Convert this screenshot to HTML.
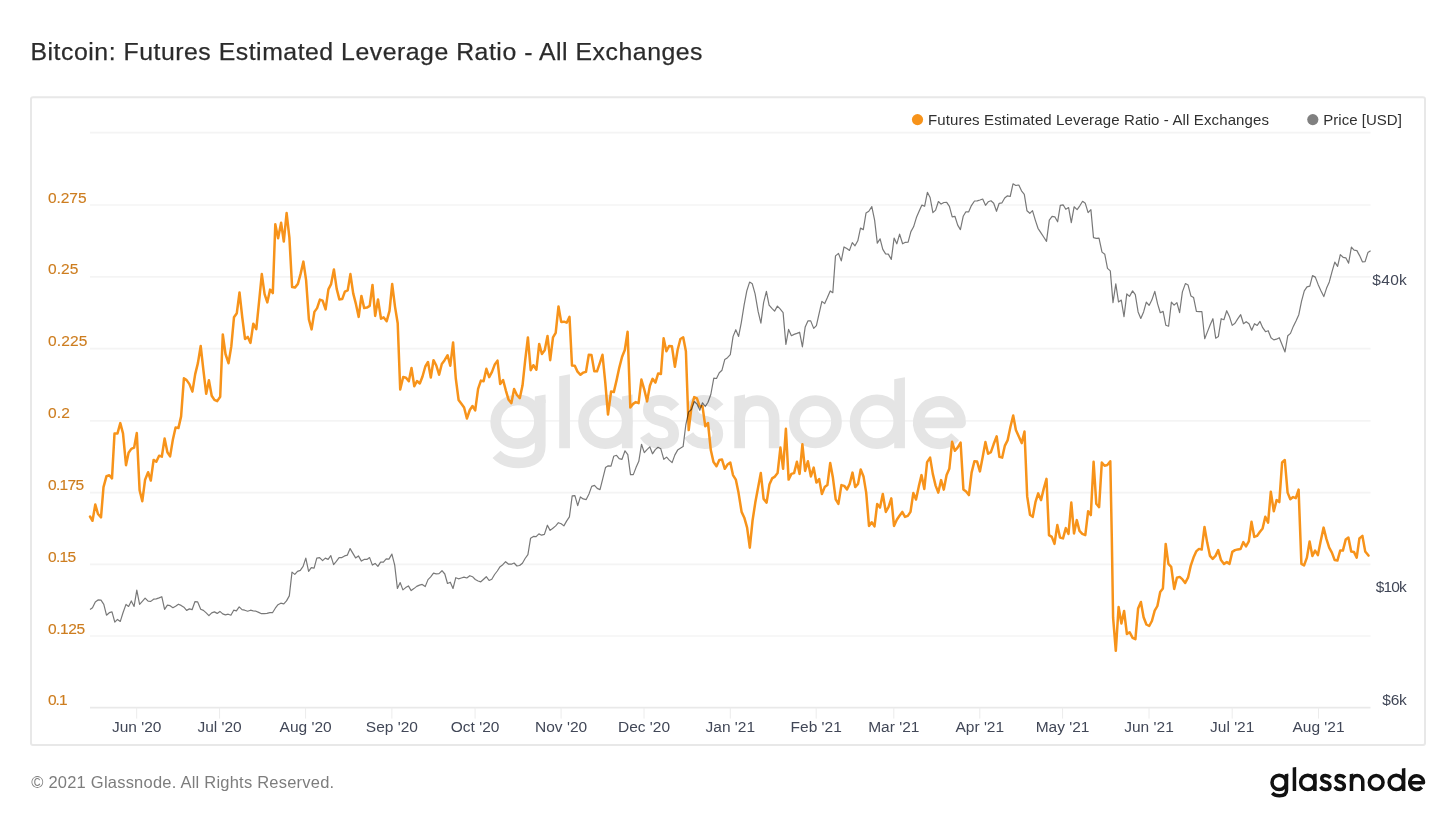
<!DOCTYPE html>
<html><head><meta charset="utf-8"><title>Bitcoin: Futures Estimated Leverage Ratio - All Exchanges</title>
<style>
html,body{margin:0;padding:0;background:#fff;}
body{width:1456px;height:819px;overflow:hidden;font-family:"Liberation Sans",sans-serif;}
svg{display:block;mix-blend-mode:multiply;will-change:transform;}
svg text{font-family:"Liberation Sans",sans-serif;}
</style></head><body>
<svg width="1456" height="819" viewBox="0 0 1456 819">
<rect width="1456" height="819" fill="#ffffff"/>
<text x="30.500" y="60.200" font-size="24.800" fill="#2b2b2b" stroke="#2b2b2b" stroke-width="0.250" textLength="672" lengthAdjust="spacing">Bitcoin: Futures Estimated Leverage Ratio - All Exchanges</text>
<rect x="31" y="97.300" width="1394" height="647.800" rx="2" ry="2" fill="#ffffff" stroke="#e8e8e8" stroke-width="2"/>

<g stroke="#f4f4f4" stroke-width="1.700">
<line x1="90" y1="132.7" x2="1370.5" y2="132.7"/>
<line x1="90" y1="205" x2="1370.5" y2="205"/>
<line x1="90" y1="276.8" x2="1370.5" y2="276.8"/>
<line x1="90" y1="348.6" x2="1370.5" y2="348.6"/>
<line x1="90" y1="420.8" x2="1370.5" y2="420.8"/>
<line x1="90" y1="492.6" x2="1370.5" y2="492.6"/>
<line x1="90" y1="564.3" x2="1370.5" y2="564.3"/>
<line x1="90" y1="636" x2="1370.5" y2="636"/>
</g>
<g transform="translate(446.650,337.800) scale(0.3835)" stroke="#e5e5e5" fill="#e5e5e5">
<g fill="none" stroke-width="28" stroke-linecap="butt" stroke-linejoin="round">
<circle cx="185" cy="219" r="57"/>
<path d="M244,160 V282 Q244,326 188,326 Q150,326 130,304"/>
<circle cx="414" cy="219" r="57"/>
<path d="M596,182 Q580,163 556,163 Q526,163 526,188 Q526,208 556,216 Q592,224 592,250 Q592,276 558,276 Q530,276 516,254"/>
<path d="M711,182 Q695,163 671,163 Q641,163 641,188 Q641,208 671,216 Q707,224 707,250 Q707,276 673,276 Q645,276 631,254"/>
<path d="M764,214 C764,182 784,164 809,164 C834,164 854,182 854,214 V288"/>
<circle cx="961.500" cy="219" r="55"/>
<circle cx="1122" cy="219" r="57"/>
<path d="M1232,222 H1340 A55,55 0 1 0 1326,258"/>
</g>
<g stroke="none" class="wmf">
<polygon points="230,153 258,148 258,170 230,170"/>
<polygon points="293.500,100 321.500,95 321.500,288 293.500,288"/>
<polygon points="457,153 485,148 485,288 457,288"/>
<polygon points="750,153 778,148 778,288 750,288"/>
<polygon points="1167,108 1195,103 1195,288 1167,288"/>
</g>
</g>
<g stroke="#e9e9e9" stroke-width="1.600"><line x1="90" y1="707.6" x2="1370.5" y2="707.6"/>
<line x1="136.7" y1="707.6" x2="136.7" y2="718.6" stroke="#ececec" stroke-width="1"/>
<line x1="219.6" y1="707.6" x2="219.6" y2="718.6" stroke="#ececec" stroke-width="1"/>
<line x1="305.6" y1="707.6" x2="305.6" y2="718.6" stroke="#ececec" stroke-width="1"/>
<line x1="391.9" y1="707.6" x2="391.9" y2="718.6" stroke="#ececec" stroke-width="1"/>
<line x1="475.1" y1="707.6" x2="475.1" y2="718.6" stroke="#ececec" stroke-width="1"/>
<line x1="561.1" y1="707.6" x2="561.1" y2="718.6" stroke="#ececec" stroke-width="1"/>
<line x1="644" y1="707.6" x2="644" y2="718.6" stroke="#ececec" stroke-width="1"/>
<line x1="730.3" y1="707.6" x2="730.3" y2="718.6" stroke="#ececec" stroke-width="1"/>
<line x1="816.2" y1="707.6" x2="816.2" y2="718.6" stroke="#ececec" stroke-width="1"/>
<line x1="893.8" y1="707.6" x2="893.8" y2="718.6" stroke="#ececec" stroke-width="1"/>
<line x1="979.8" y1="707.6" x2="979.8" y2="718.6" stroke="#ececec" stroke-width="1"/>
<line x1="1062.6" y1="707.6" x2="1062.6" y2="718.6" stroke="#ececec" stroke-width="1"/>
<line x1="1149" y1="707.6" x2="1149" y2="718.6" stroke="#ececec" stroke-width="1"/>
<line x1="1232.2" y1="707.6" x2="1232.2" y2="718.6" stroke="#ececec" stroke-width="1"/>
<line x1="1318.5" y1="707.6" x2="1318.5" y2="718.6" stroke="#ececec" stroke-width="1"/>
</g>
<polyline fill="none" stroke="#f7931a" stroke-width="2.500" stroke-linejoin="round" stroke-linecap="round" points="90.0,516.5 92.5,520.8 95.3,504.5 98.0,514.0 101.0,517.3 103.5,487.2 106.5,476.2 109.3,475.2 112.0,478.4 114.5,433.6 117.5,433.4 120.3,423.1 123.0,433.4 126.0,465.2 128.6,452.7 131.3,448.9 134.1,447.7 136.8,433.1 139.6,490.2 142.3,501.2 145.1,479.7 148.1,472.2 150.8,480.5 153.6,459.9 156.3,461.7 159.1,455.7 161.8,456.7 164.6,438.6 167.4,452.2 170.1,456.4 172.9,439.4 175.6,427.4 178.4,428.1 181.1,416.4 183.9,378.3 186.6,380.1 189.4,384.1 192.4,391.6 195.2,374.1 197.9,363.1 200.7,346.0 203.4,370.1 206.2,393.8 208.9,380.3 211.7,395.8 214.4,399.9 217.2,401.1 220.2,396.8 222.8,334.4 225.5,354.0 228.5,363.2 231.3,346.4 234.0,317.2 236.8,313.2 239.5,292.4 242.3,317.7 245.0,338.9 247.8,336.9 250.5,342.9 253.3,323.7 256.3,329.2 259.1,301.4 261.8,274.1 264.6,294.1 267.3,302.4 270.1,289.6 272.8,293.1 275.3,224.3 278.1,238.3 281.1,222.8 283.8,241.6 286.6,213.0 289.4,237.6 292.1,287.1 294.9,287.6 297.9,283.9 300.6,273.9 303.4,261.6 306.1,280.1 308.9,319.4 311.6,329.4 314.4,311.9 317.1,308.1 319.9,299.6 322.6,300.6 325.6,309.4 328.4,289.4 331.1,284.1 333.9,269.4 336.7,288.9 339.4,299.4 342.2,299.1 344.9,291.6 347.7,290.4 350.4,274.1 353.2,293.4 355.9,303.9 358.7,316.9 361.4,295.9 364.2,308.1 366.9,307.6 369.7,305.9 372.5,284.9 375.2,315.9 378.0,299.4 381.0,318.7 383.7,317.4 386.7,321.2 389.5,310.9 392.2,284.1 395.0,306.6 397.7,323.2 400.2,389.5 403.2,377.0 406.0,377.7 408.8,381.2 411.5,368.0 414.3,386.3 417.0,381.0 419.8,383.5 422.5,376.5 425.3,366.5 428.0,362.0 430.8,377.5 433.5,360.2 436.3,365.5 439.1,374.7 441.8,364.0 444.6,360.2 447.6,355.2 450.3,365.7 453.1,342.4 455.8,378.5 458.6,400.0 461.4,403.8 464.1,407.5 466.9,418.5 469.8,410.0 472.5,406.0 475.2,410.4 478.1,388.8 480.9,380.6 483.6,381.2 486.4,368.8 489.2,377.1 492.0,371.9 494.8,364.4 497.5,360.6 500.2,384.1 503.1,380.0 505.9,390.6 508.6,399.8 511.4,403.1 514.1,389.1 516.9,395.0 519.8,398.1 522.5,385.6 525.2,360.2 527.9,337.4 530.7,370.2 533.4,365.2 536.4,369.7 539.2,343.9 541.9,354.0 544.7,350.2 547.5,335.9 550.2,360.2 553.0,337.4 555.7,332.9 558.5,306.4 561.2,321.9 564.0,321.7 566.7,322.7 569.5,316.9 572.0,365.6 574.8,365.8 577.5,371.6 580.5,374.8 583.3,372.6 586.0,371.8 588.8,354.8 591.5,355.1 594.3,371.3 597.0,371.3 599.8,363.1 602.5,354.8 605.3,382.6 608.0,414.6 611.1,391.4 613.8,392.1 616.6,380.1 619.3,367.6 622.1,356.8 624.8,350.0 627.6,331.8 630.3,407.4 633.1,403.9 635.8,402.1 638.6,403.1 641.4,379.6 644.1,388.8 647.1,401.4 649.9,385.8 652.6,378.8 655.4,382.6 658.1,373.6 660.9,374.1 663.6,338.3 666.4,351.3 669.1,346.0 671.9,346.3 674.9,366.8 677.6,350.0 680.4,339.0 683.2,337.3 685.9,351.3 688.7,430.1 691.4,407.6 694.2,397.1 696.9,398.4 699.7,406.4 702.5,406.3 705.3,426.3 708.0,423.0 710.8,450.1 713.5,462.1 716.5,466.3 719.3,460.1 722.0,459.6 724.8,468.8 727.5,464.6 730.3,462.6 733.0,475.1 735.8,479.6 738.5,492.6 741.6,511.9 744.3,517.7 747.1,527.7 749.8,547.7 752.6,520.2 755.3,502.6 758.1,487.6 760.8,473.1 763.6,498.9 766.6,502.6 769.4,484.6 772.1,478.4 774.9,476.6 777.6,473.1 780.4,447.6 783.1,468.8 785.9,428.8 788.6,479.6 791.4,473.9 794.1,473.1 796.9,461.8 799.6,473.9 802.4,444.3 805.1,470.9 807.9,461.3 810.9,476.4 813.7,467.6 816.4,482.6 819.2,479.1 821.9,494.1 824.7,487.1 827.4,485.1 830.2,463.1 832.9,477.6 835.7,499.4 838.4,503.9 841.4,485.1 844.2,485.9 847.0,489.4 849.7,483.9 852.5,472.6 855.2,487.1 858.0,483.9 860.7,469.6 863.5,476.4 866.2,492.6 869.0,525.9 871.7,522.2 874.5,526.4 877.2,503.9 880.0,507.6 882.8,493.9 885.8,511.9 888.5,507.1 891.3,498.4 894.0,525.9 896.8,519.7 899.5,515.7 902.3,511.9 905.0,516.9 907.8,515.9 910.5,511.9 913.3,493.1 916.0,499.6 918.8,486.4 921.5,475.1 924.3,488.9 927.1,462.1 930.1,457.6 932.8,473.9 935.6,485.6 938.3,492.6 941.1,480.1 943.8,489.6 946.6,475.1 949.3,468.8 952.1,441.8 954.9,450.8 957.6,447.6 960.6,442.6 963.4,489.4 966.1,491.4 968.9,495.1 971.6,472.6 974.4,461.3 977.1,461.6 979.9,471.4 982.6,457.6 985.4,442.1 988.1,453.8 990.9,452.1 993.6,444.3 996.7,436.3 999.4,456.8 1002.2,457.6 1004.9,445.6 1007.7,440.1 1010.4,427.0 1013.2,415.5 1015.9,430.0 1018.7,436.3 1021.7,443.1 1024.5,431.5 1027.2,496.4 1030.0,514.7 1032.7,516.9 1035.5,501.9 1038.2,493.4 1041.0,500.1 1043.7,488.9 1046.5,478.9 1049.0,535.1 1051.8,536.9 1054.5,543.9 1057.3,525.1 1060.0,537.6 1063.0,538.4 1065.8,528.1 1068.5,533.9 1071.3,502.6 1074.0,533.4 1076.8,520.1 1079.5,530.9 1082.3,533.9 1085.3,535.1 1088.1,511.3 1090.8,515.1 1093.6,461.8 1096.3,503.8 1099.1,507.1 1101.8,462.5 1104.6,465.8 1107.3,465.0 1110.3,461.3 1111.8,537.6 1113.1,617.7 1115.8,650.8 1118.6,607.0 1121.4,623.5 1124.1,611.0 1126.9,634.0 1129.6,632.2 1132.6,637.8 1135.4,639.2 1138.1,608.5 1140.9,602.0 1143.6,617.2 1146.4,624.5 1149.2,626.0 1151.9,621.0 1154.7,610.7 1157.4,606.0 1160.2,591.9 1162.9,588.4 1165.7,543.9 1168.4,563.9 1171.2,566.9 1174.2,588.9 1176.9,577.7 1179.7,576.9 1182.5,579.4 1185.2,582.9 1188.0,577.7 1190.7,565.9 1193.5,557.6 1196.2,551.4 1199.0,548.9 1201.7,549.6 1204.5,526.9 1207.2,542.6 1210.0,555.9 1212.7,558.9 1215.5,555.9 1218.2,550.1 1221.0,560.1 1224.0,563.9 1226.8,562.1 1229.5,563.9 1232.3,551.9 1235.0,550.1 1237.8,549.4 1240.5,549.1 1243.3,542.1 1246.0,546.4 1248.8,541.4 1251.5,521.8 1254.3,536.9 1257.0,535.9 1259.8,532.1 1262.6,528.4 1265.3,516.8 1268.1,522.6 1270.8,491.8 1273.8,511.3 1276.6,500.1 1279.3,502.1 1282.1,462.5 1284.8,460.0 1287.6,492.6 1290.3,499.3 1293.1,497.1 1295.8,498.1 1298.6,489.6 1301.4,563.9 1304.1,565.4 1306.9,557.6 1309.6,541.4 1312.4,555.9 1315.1,550.6 1317.9,555.1 1320.6,541.4 1323.6,527.6 1326.4,538.9 1329.2,547.6 1331.9,552.6 1334.7,560.1 1337.4,560.6 1340.2,550.6 1342.9,550.6 1345.7,539.6 1348.4,537.6 1351.2,551.4 1353.9,551.9 1356.7,557.6 1359.4,538.4 1362.4,535.9 1365.2,551.4 1368.5,555.6"/>
<polyline fill="none" stroke="#000000" stroke-opacity="0.530" stroke-width="1.200" stroke-linejoin="round" points="90.0,609.4 92.5,607.7 95.3,601.9 98.0,599.9 101.0,600.2 103.8,604.4 106.5,615.2 109.3,612.7 112.0,611.9 114.8,622.2 117.5,619.4 120.3,621.4 123.0,612.7 126.0,604.4 128.6,606.4 131.3,600.9 134.1,606.4 136.8,590.1 139.6,604.4 142.3,601.4 145.1,598.2 148.1,601.2 150.8,601.4 153.6,599.2 156.3,598.9 159.1,597.9 161.8,596.7 164.6,609.4 167.4,605.2 170.1,605.7 172.9,607.7 175.6,606.2 178.4,604.2 181.1,605.4 183.9,607.2 186.6,610.4 189.4,608.9 192.1,609.7 194.9,601.7 197.7,601.9 200.7,609.2 203.4,610.4 206.2,612.9 208.9,615.7 211.7,612.9 214.4,611.9 217.2,613.4 219.9,611.4 222.7,613.9 225.4,614.9 228.2,614.2 230.9,615.2 233.7,610.2 236.4,610.9 239.2,606.9 242.0,609.7 244.7,610.2 247.7,611.2 250.5,610.2 253.2,610.9 256.0,611.2 258.7,612.4 261.5,613.7 264.2,613.7 267.0,613.4 269.8,612.7 272.5,612.7 275.3,608.2 278.0,604.7 280.8,603.2 283.8,603.9 286.5,600.9 289.3,595.9 292.0,572.1 294.8,574.4 297.5,571.4 300.3,570.4 303.1,566.4 305.8,558.1 308.6,571.4 311.3,567.6 314.1,568.1 316.8,558.1 319.6,557.6 322.6,560.6 325.3,558.1 328.1,559.4 330.8,555.6 333.6,564.6 336.3,561.4 339.1,557.6 341.9,557.6 344.6,555.9 347.4,555.1 350.1,548.6 352.9,553.4 355.6,557.9 358.4,555.9 361.4,561.1 364.1,559.4 366.9,559.4 369.6,557.6 372.4,565.1 375.1,563.4 377.9,566.4 380.6,562.1 383.4,562.1 386.2,558.9 388.9,559.1 391.9,554.1 394.7,565.1 397.4,588.4 400.2,582.6 402.9,589.9 405.7,587.6 408.4,585.9 411.2,590.6 413.9,588.6 416.7,586.4 419.5,585.1 422.2,584.4 425.2,586.6 428.0,579.6 430.7,576.9 433.5,573.1 436.2,573.9 439.0,573.6 442.0,570.7 444.8,574.0 447.5,583.5 450.3,582.2 453.0,588.5 455.8,577.7 458.5,578.8 461.3,578.0 464.0,577.2 466.8,578.0 469.8,575.7 472.5,576.7 475.3,579.5 478.1,581.0 480.8,581.8 483.6,579.2 486.3,576.7 489.1,580.5 491.8,579.2 494.6,574.5 497.3,571.0 500.1,566.7 502.8,564.7 505.6,561.7 508.6,564.2 511.4,564.2 514.1,563.0 516.9,566.0 519.6,565.5 522.4,563.2 525.1,558.5 527.9,554.7 530.6,538.2 533.4,536.4 536.1,536.7 538.9,533.9 541.6,535.2 544.4,534.4 547.4,525.2 550.1,530.4 552.9,528.2 555.7,525.9 558.4,522.7 561.2,523.7 563.9,525.9 566.7,520.9 569.4,516.9 572.2,495.9 574.9,495.6 577.7,505.6 580.4,496.9 583.2,498.9 586.2,499.6 589.0,493.9 591.7,486.4 594.5,485.4 597.2,488.4 600.0,489.6 602.7,478.9 605.5,467.6 608.2,465.8 611.0,466.1 613.7,456.3 616.5,455.3 619.2,458.6 622.0,459.3 625.0,450.8 627.8,454.6 630.5,474.6 633.3,474.6 636.0,467.6 638.8,461.3 641.5,444.3 644.3,452.6 647.0,449.6 649.8,446.8 652.5,453.8 655.3,449.6 658.0,447.3 660.8,448.8 663.8,459.3 666.6,457.1 669.3,460.1 672.1,462.6 674.8,455.1 677.6,450.1 680.3,448.3 683.1,446.6 685.8,425.0 688.6,412.0 691.4,409.5 694.3,401.5 697.0,404.0 699.8,410.3 702.5,402.8 705.3,406.5 708.0,402.3 710.8,394.5 713.8,378.2 716.5,378.5 719.3,372.7 722.0,370.2 724.8,359.4 727.5,357.7 730.3,354.7 733.1,336.4 735.8,329.7 738.6,336.4 741.3,322.6 744.1,305.1 746.8,290.9 749.6,282.1 752.3,283.8 755.1,293.9 758.1,311.4 760.9,323.1 763.6,302.6 766.4,291.4 769.1,305.1 771.9,308.4 774.6,311.1 777.4,306.1 780.1,308.9 783.1,312.6 785.9,344.4 788.6,329.4 791.4,335.7 794.1,334.4 796.9,333.4 799.6,332.2 802.4,346.9 805.2,326.9 807.9,320.9 810.7,320.9 813.7,328.4 816.4,325.6 819.2,313.1 821.9,301.4 824.7,303.6 827.4,297.6 830.2,290.9 832.8,292.7 835.5,255.9 838.5,253.4 841.3,260.9 844.0,246.9 846.8,248.6 849.5,250.4 852.3,242.6 855.0,245.8 857.8,240.8 860.5,228.1 863.3,229.6 866.0,213.1 868.8,211.3 871.8,206.6 874.6,220.1 877.3,243.1 880.1,238.8 882.8,249.4 885.6,253.9 888.3,254.1 891.3,259.4 894.1,238.1 896.8,243.8 899.6,234.1 902.6,243.8 905.4,242.3 908.1,242.1 910.9,231.6 913.6,226.8 916.4,217.6 919.1,211.3 921.9,205.1 924.6,206.3 927.4,192.3 930.1,197.5 932.9,212.6 935.6,210.1 938.4,201.5 941.1,204.1 943.9,202.5 946.7,202.3 949.4,206.3 952.2,216.8 954.9,216.3 957.7,225.1 960.4,229.6 963.2,216.3 965.9,211.8 968.7,211.8 971.4,205.6 974.5,201.0 977.2,200.8 980.0,200.0 982.7,199.0 985.5,205.3 988.2,201.8 991.0,200.8 993.7,203.3 996.5,211.3 999.2,203.3 1002.0,202.8 1004.7,198.0 1007.5,195.8 1010.2,196.5 1013.0,183.8 1015.8,185.5 1018.8,185.0 1021.5,190.8 1024.3,194.3 1027.0,210.8 1029.8,213.3 1032.5,210.6 1035.3,220.1 1038.0,228.3 1040.8,232.6 1043.5,236.8 1046.5,241.3 1049.3,220.1 1052.1,216.3 1054.8,216.8 1057.6,221.8 1060.3,205.3 1063.1,204.8 1065.8,209.3 1068.6,207.6 1071.3,222.6 1074.1,206.8 1077.1,209.6 1079.8,205.8 1082.6,201.3 1085.3,203.3 1088.1,212.6 1090.9,209.6 1093.5,237.6 1096.3,238.3 1099.0,238.1 1102.0,252.1 1104.8,254.3 1107.5,268.4 1110.3,270.9 1113.0,302.6 1115.8,283.9 1118.5,301.9 1121.3,300.1 1124.0,316.7 1126.8,293.9 1129.5,296.4 1132.6,290.9 1135.3,294.6 1138.1,311.9 1140.8,318.4 1143.6,311.9 1146.3,302.1 1149.1,305.4 1151.8,300.1 1154.8,291.4 1157.6,303.9 1160.3,312.7 1163.1,311.4 1165.8,325.2 1168.6,326.2 1171.4,302.1 1174.1,305.1 1176.9,302.6 1179.6,312.7 1182.4,291.9 1185.4,283.6 1188.1,285.1 1190.9,295.9 1193.6,297.6 1196.4,311.4 1199.2,311.7 1201.9,311.7 1204.7,338.7 1207.4,331.9 1210.2,324.7 1212.9,318.7 1215.7,338.2 1218.4,336.4 1221.2,318.7 1223.9,319.7 1226.7,310.7 1229.4,316.4 1232.2,325.4 1235.0,323.2 1237.7,318.9 1240.7,314.7 1243.5,323.7 1246.2,321.7 1249.0,323.7 1251.7,330.2 1254.5,323.7 1257.2,325.4 1260.0,321.4 1262.7,327.7 1265.5,331.7 1268.2,330.7 1271.0,337.7 1273.8,339.9 1276.5,339.2 1279.3,337.7 1282.0,344.5 1285.0,352.0 1287.8,335.7 1290.5,333.4 1293.3,326.4 1296.0,320.9 1298.8,314.7 1301.5,301.4 1304.3,290.9 1307.0,286.9 1309.8,286.1 1312.5,275.6 1315.3,277.1 1318.1,284.4 1320.8,290.6 1323.8,296.6 1326.6,288.1 1329.3,281.9 1332.1,271.4 1334.8,262.1 1337.6,266.4 1340.3,254.6 1343.1,257.3 1345.8,257.8 1348.6,263.1 1351.4,247.1 1354.1,250.1 1356.9,250.6 1359.6,255.6 1362.4,261.8 1365.1,261.6 1367.9,252.6 1370.6,250.8"/>
<g font-size="15.500" fill="#cd7d1f" stroke="#cd7d1f" stroke-width="0.150">
<text x="48" y="202.6" textLength="38.5" lengthAdjust="spacing">0.275</text>
<text x="48" y="274.4" textLength="30.3" lengthAdjust="spacing">0.25</text>
<text x="48" y="346.2" textLength="39.3" lengthAdjust="spacing">0.225</text>
<text x="48" y="418.4" textLength="21.8" lengthAdjust="spacing">0.2</text>
<text x="48" y="490.2" textLength="36" lengthAdjust="spacing">0.175</text>
<text x="48" y="561.9" textLength="28" lengthAdjust="spacing">0.15</text>
<text x="48" y="633.6" textLength="37" lengthAdjust="spacing">0.125</text>
<text x="48" y="705.1" textLength="19.5" lengthAdjust="spacing">0.1</text>
</g>
<g font-size="15.500" fill="#414757" text-anchor="end">
<text x="1406.800" y="285.2" textLength="34.5" lengthAdjust="spacing">$40k</text>
<text x="1406.800" y="591.6" textLength="31" lengthAdjust="spacing">$10k</text>
<text x="1406.800" y="704.6" textLength="24.5" lengthAdjust="spacing">$6k</text>
</g>
<g font-size="15.500" fill="#414757" text-anchor="middle">
<text x="136.7" y="732">Jun '20</text>
<text x="219.6" y="732">Jul '20</text>
<text x="305.6" y="732">Aug '20</text>
<text x="391.9" y="732">Sep '20</text>
<text x="475.1" y="732">Oct '20</text>
<text x="561.1" y="732">Nov '20</text>
<text x="644" y="732">Dec '20</text>
<text x="730.3" y="732">Jan '21</text>
<text x="816.2" y="732">Feb '21</text>
<text x="893.8" y="732">Mar '21</text>
<text x="979.8" y="732">Apr '21</text>
<text x="1062.6" y="732">May '21</text>
<text x="1149" y="732">Jun '21</text>
<text x="1232.2" y="732">Jul '21</text>
<text x="1318.5" y="732">Aug '21</text>
</g>
<circle cx="917.500" cy="119.600" r="5.600" fill="#f7931a"/>
<text x="928" y="124.600" font-size="15" fill="#303030" textLength="341" lengthAdjust="spacing">Futures Estimated Leverage Ratio - All Exchanges</text>
<circle cx="1312.800" cy="119.600" r="5.600" fill="#808080"/>
<text x="1323.300" y="124.600" font-size="15" fill="#303030" textLength="78.500" lengthAdjust="spacing">Price [USD]</text>
<text x="31.200" y="788.300" font-size="16.500" fill="#7d7d7d" textLength="303" lengthAdjust="spacing">© 2021 Glassnode. All Rights Reserved.</text>
<g transform="translate(1256,755) scale(0.125)" stroke="#111111" fill="#111111">
<g fill="none" stroke-width="28" stroke-linecap="butt" stroke-linejoin="round">
<circle cx="185" cy="219" r="57"/>
<path d="M244,160 V282 Q244,326 188,326 Q150,326 130,304"/>
<circle cx="414" cy="219" r="57"/>
<path d="M596,182 Q580,163 556,163 Q526,163 526,188 Q526,208 556,216 Q592,224 592,250 Q592,276 558,276 Q530,276 516,254"/>
<path d="M711,182 Q695,163 671,163 Q641,163 641,188 Q641,208 671,216 Q707,224 707,250 Q707,276 673,276 Q645,276 631,254"/>
<path d="M764,214 C764,182 784,164 809,164 C834,164 854,182 854,214 V288"/>
<circle cx="961.500" cy="219" r="55"/>
<circle cx="1122" cy="219" r="57"/>
<path d="M1232,222 H1340 A55,55 0 1 0 1326,258"/>
</g>
<g stroke="none" class="wmf">
<polygon points="230,153 258,148 258,170 230,170"/>
<polygon points="293.500,100 321.500,95 321.500,288 293.500,288"/>
<polygon points="457,153 485,148 485,288 457,288"/>
<polygon points="750,153 778,148 778,288 750,288"/>
<polygon points="1167,108 1195,103 1195,288 1167,288"/>
</g>
</g>
</svg></body></html>
